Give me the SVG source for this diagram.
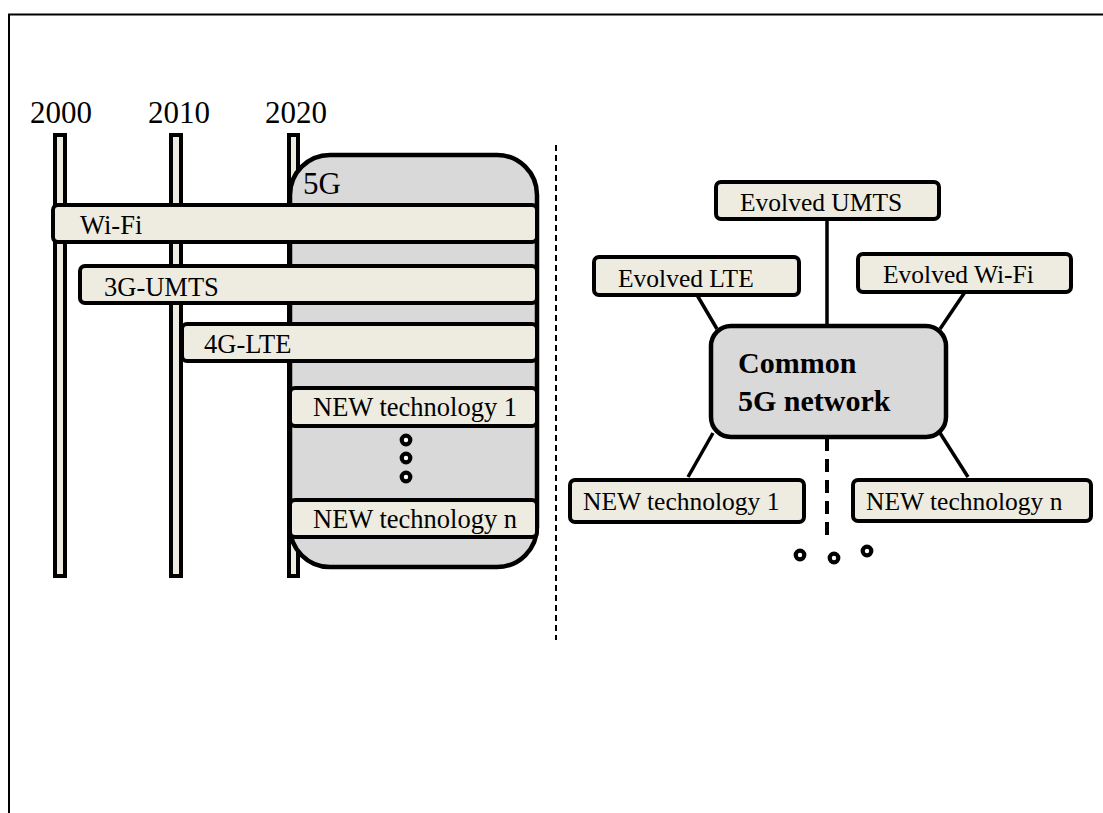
<svg xmlns="http://www.w3.org/2000/svg" width="1103" height="813" viewBox="0 0 1103 813">
<style>
text{font-family:"Liberation Serif","Times New Roman",serif;fill:#000}
.yr{font-size:31px}
.lbl{font-size:26.5px}
.rl{font-size:25.5px}
.bar{fill:#EEECE1;stroke:#000;stroke-width:4}
.tl{fill:#EEECE1;stroke:#000;stroke-width:4}
.gray{fill:#D9D9D9;stroke:#000;stroke-width:4.5}
.ln{stroke:#000;stroke-width:3.5;fill:none}
.dot{fill:#fff;stroke:#000;stroke-width:4.2}
</style>
<rect width="1103" height="813" fill="#fff"/>
<path d="M9 813 V14.5 H1103" fill="none" stroke="#000" stroke-width="2"/>

<g id="timeline">
<text class="yr" x="30" y="123">2000</text>
<text class="yr" x="148" y="123">2010</text>
<text class="yr" x="265" y="123">2020</text>
<rect class="tl" x="55" y="135" width="10" height="441"/>
<rect class="tl" x="171" y="135" width="10" height="441"/>
<rect class="tl" x="289" y="135" width="9" height="441"/>
</g>

<g id="box-5g">
<rect class="gray" x="290" y="155" width="247" height="412" rx="40" ry="40"/>
<text x="303" y="194" style="font-size:31px">5G</text>
</g>

<g id="bar-wifi">
<rect class="bar" x="53" y="205" width="484" height="37" rx="5"/>
<text class="lbl" x="80" y="234">Wi-Fi</text>
</g>
<g id="bar-3g">
<rect class="bar" x="80" y="266" width="457" height="37" rx="5"/>
<text class="lbl" x="104" y="296">3G-UMTS</text>
</g>
<g id="bar-4g">
<rect class="bar" x="182" y="324" width="355" height="37" rx="5"/>
<text class="lbl" x="204" y="353">4G-LTE</text>
</g>
<g id="bar-new1">
<rect class="bar" x="290" y="388" width="247" height="38" rx="5"/>
<text class="lbl" x="313" y="416">NEW technology 1</text>
</g>
<g id="dots-left">
<circle class="dot" cx="406" cy="440" r="4.3"/>
<circle class="dot" cx="406" cy="458" r="4.3"/>
<circle class="dot" cx="406" cy="477" r="4.3"/>
</g>
<g id="bar-newn">
<rect class="bar" x="290" y="500" width="247" height="37" rx="5"/>
<text class="lbl" x="313" y="528">NEW technology n</text>
</g>

<line x1="556" y1="145" x2="556" y2="640" stroke="#000" stroke-width="2" stroke-dasharray="6,4"/>

<g id="connectors">
<line class="ln" x1="827" y1="219" x2="827" y2="326"/>
<line class="ln" x1="697" y1="295" x2="717" y2="329"/>
<line class="ln" x1="965" y1="292" x2="940" y2="329"/>
<line class="ln" x1="713" y1="433" x2="688" y2="477"/>
<line class="ln" x1="940" y1="433" x2="968" y2="477"/>
<line x1="827" y1="438" x2="827" y2="538" stroke="#000" stroke-width="4" stroke-dasharray="13,8"/>
</g>

<g id="evolved-umts">
<rect class="bar" x="716" y="182" width="223" height="37" rx="5"/>
<text class="rl" x="740" y="211">Evolved UMTS</text>
</g>
<g id="evolved-lte">
<rect class="bar" x="594" y="257" width="205" height="38" rx="5"/>
<text class="rl" x="618" y="287">Evolved LTE</text>
</g>
<g id="evolved-wifi">
<rect class="bar" x="858" y="254" width="213" height="38" rx="5"/>
<text class="rl" x="883" y="283">Evolved Wi-Fi</text>
</g>
<g id="common-5g">
<rect class="gray" x="711" y="326" width="235" height="111" rx="20"/>
<text x="738" y="373" style="font-size:30px;font-weight:bold">Common</text>
<text x="738" y="411" style="font-size:30px;font-weight:bold">5G network</text>
</g>
<g id="new-tech-1">
<rect class="bar" x="570" y="480" width="234" height="42" rx="5"/>
<text class="rl" x="583" y="510">NEW technology 1</text>
</g>
<g id="new-tech-n">
<rect class="bar" x="853" y="480" width="238" height="41" rx="5"/>
<text class="rl" x="866" y="510">NEW technology n</text>
</g>
<g id="dots-right">
<circle class="dot" cx="800" cy="555" r="4.3"/>
<circle class="dot" cx="834" cy="558" r="4.3"/>
<circle class="dot" cx="867" cy="551" r="4.3"/>
</g>
</svg>
